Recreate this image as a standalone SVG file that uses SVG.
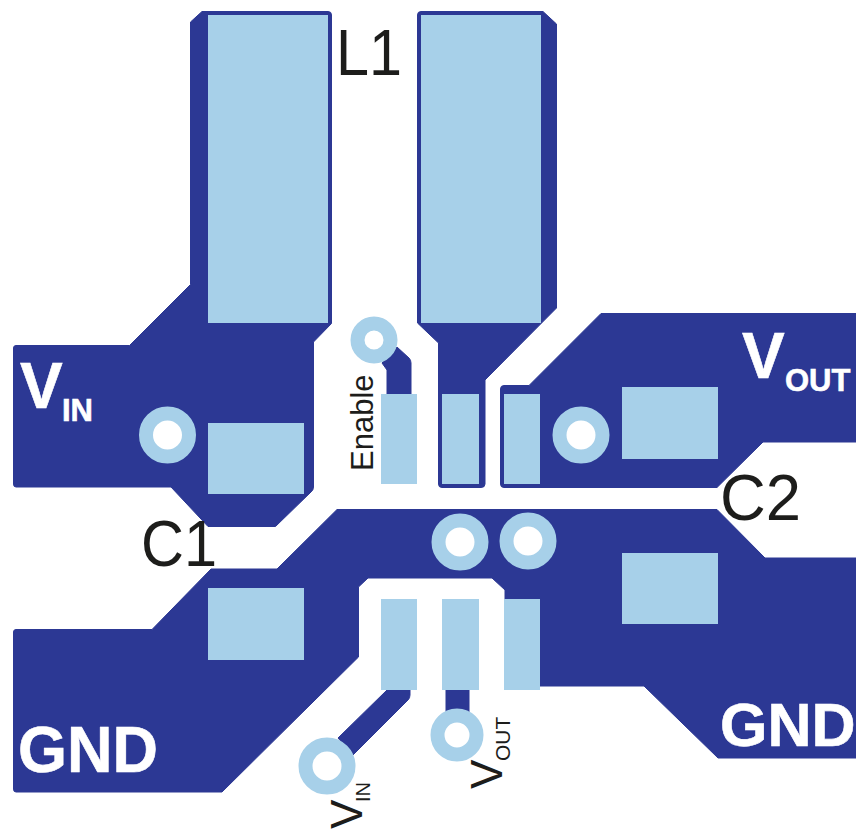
<svg xmlns="http://www.w3.org/2000/svg" width="856" height="831" viewBox="0 0 856 831">
<style>
.cu{fill:#2c3894;stroke:#2c3894;stroke-width:1}
.pad{fill:#a7d0e9}
.ring{fill:#fff;stroke:#a7d0e9}
.w{fill:#fff;font-family:"Liberation Sans",Arial,sans-serif;font-weight:700;stroke:#fff;stroke-width:.6}
.k{fill:#1d1d1b;font-family:"Liberation Sans",Arial,sans-serif}
</style>
<rect width="856" height="831" fill="#fff"/>
<g id="copper">
<path class="cu" d="M16 345.500H129.500L190.500 284.500V22L202 11.500H328Q331.500 11.500 331.500 15V323.500L313.500 342V487Q313.500 490 311 492L275.500 526.500H208L171 487H16Q13.500 487 13.500 484V348Q13.500 345.500 16 345.500Z"/>
<path class="cu" d="M421 11.500H543L556.500 24V308L485 380V484Q485 487.500 481 487.500H442Q438.500 487.500 438.500 484V343L417.500 323V15Q417.500 11.500 421 11.500Z"/>
<path class="cu" d="M601 313.500H856V442H763L717 487.500H504Q500.500 487.500 500.500 484V389Q500.500 385.500 504 385.500H529Z"/>
<path class="cu" d="M337 509.500H717L765 558H856V758H718L644 686H539V600H505V590L492 578H368L358.500 587V657L222 792H16Q13.500 792 13.500 789V632Q13.500 629.500 16 629.500H152L211 569H277Z"/>
<path class="cu" d="M382 363L397 347L409 358Q411 360 411 363V394H387V370Z"/>
<path class="cu" d="M387 690H410V695Q410 698 408 700L353 755L338 738Z"/>
<rect class="cu" x="446" y="690" width="23" height="30"/>
</g>
<g id="pads">
<rect class="pad" x="208" y="15" width="120" height="308"/>
<rect class="pad" x="421" y="15" width="120" height="308"/>
<rect class="pad" x="208" y="423" width="96" height="71"/>
<rect class="pad" x="208" y="588" width="96" height="72"/>
<rect class="pad" x="622" y="387" width="96" height="72"/>
<rect class="pad" x="622" y="553" width="96" height="71"/>
<rect class="pad" x="381" y="394" width="36" height="90"/>
<rect class="pad" x="442" y="394" width="37" height="90"/>
<rect class="pad" x="504" y="394" width="36" height="90"/>
<rect class="pad" x="381" y="599" width="36" height="91"/>
<rect class="pad" x="442" y="599" width="37" height="91"/>
<rect class="pad" x="504" y="599" width="36" height="91"/>
</g>
<g id="vias">
<circle class="ring" cx="167.500" cy="435" r="21.500" stroke-width="14"/>
<circle class="ring" cx="581" cy="435" r="21.500" stroke-width="14"/>
<circle class="ring" cx="460" cy="542" r="21.500" stroke-width="14"/>
<circle class="ring" cx="528" cy="541" r="21.500" stroke-width="14"/>
<circle class="ring" cx="374" cy="340" r="16.500" stroke-width="14"/>
<circle class="ring" cx="327" cy="766" r="21.500" stroke-width="14"/>
<circle class="ring" cx="457" cy="735" r="19.500" stroke-width="14"/>
</g>
<g id="labels">
<text class="k" x="336" y="75" font-size="64" textLength="66" lengthAdjust="spacingAndGlyphs">L1</text>
<text class="k" x="141" y="566" font-size="64" textLength="76" lengthAdjust="spacingAndGlyphs">C1</text>
<text class="k" x="720" y="520" font-size="64" textLength="81" lengthAdjust="spacingAndGlyphs">C2</text>
<text class="k" transform="translate(373 471) rotate(-90)" font-size="31">Enable</text>
<text class="w" x="20" y="408" font-size="64">V</text>
<text class="w" x="62" y="421" font-size="31">IN</text>
<text class="w" x="742" y="378" font-size="64">V</text>
<text class="w" x="785" y="391" font-size="31">OUT</text>
<text class="w" x="18" y="772" font-size="64" textLength="140" lengthAdjust="spacingAndGlyphs">GND</text>
<text class="w" x="720" y="746" font-size="61">GND</text>
<text class="k" transform="translate(362 829) rotate(-90)" font-size="44">V</text>
<text class="k" transform="translate(370 802) rotate(-90)" font-size="20">IN</text>
<text class="k" transform="translate(502 789) rotate(-90)" font-size="44">V</text>
<text class="k" transform="translate(510 761) rotate(-90)" font-size="21">OUT</text>
</g>
</svg>
